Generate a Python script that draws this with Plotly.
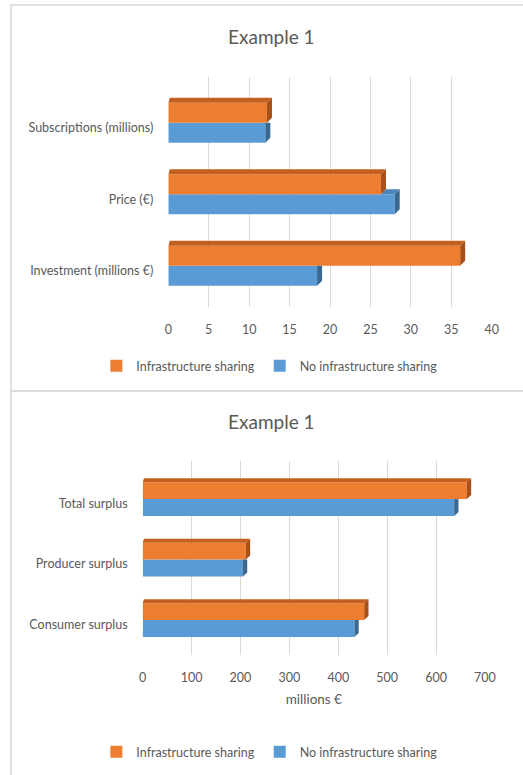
import plotly.graph_objects as go

# ---------------- data ----------------
categories_top = ["Investment (millions €)", "Price (€)", "Subscriptions (millions)"]
sharing_top = [36.1, 26.3, 12.2]
no_sharing_top = [18.4, 28.0, 12.0]
ticks_top = [0, 5, 10, 15, 20, 25, 30, 35, 40]

categories_bottom = ["Consumer surplus", "Producer surplus", "Total surplus"]
sharing_bottom = [453, 211, 663]
no_sharing_bottom = [433, 205, 637]
ticks_bottom = [0, 100, 200, 300, 400, 500, 600, 700]

series_names = ["Infrastructure sharing", "No infrastructure sharing"]
title_text = "Example 1"
axis_title_bottom = "millions €"

# ---------------- style ----------------
ORANGE = "#ED7D31"
ORANGE_TOP = "#C3601F"
ORANGE_SIDE = "#A8501A"
BLUE = "#5B9BD5"
BLUE_TOP = "#4E86BA"
BLUE_SIDE = "#3A6891"
GRID = "#D9D9D9"
TEXT = "#595959"
FONT = "Lato"

BW = 0.28      # bar thickness (category units)
SHIFT = 0.07   # front-face shift of the group relative to label


def poly_trace(polys, color, xa, ya):
    xs, ys = [], []
    for p in polys:
        for (px, py) in p:
            xs.append(px)
            ys.append(py)
        xs.append(p[0][0])
        ys.append(p[0][1])
        xs.append(None)
        ys.append(None)
    return go.Scatter(x=xs, y=ys, mode="lines", fill="toself", fillcolor=color,
                      line=dict(width=0, color=color), hoverinfo="skip",
                      showlegend=False, xaxis=xa, yaxis=ya)


def add_chart(fig, cats, vals_o, vals_b, dx, dy, xa, ya, legend, show_legend):
    pos = list(range(len(cats)))
    fig.add_trace(go.Bar(y=pos, x=vals_b, orientation="h", width=BW,
                         offset=SHIFT - BW, marker=dict(color=BLUE, line=dict(width=0)),
                         name=series_names[1], legendrank=2, legend=legend,
                         showlegend=show_legend, xaxis=xa, yaxis=ya))
    fig.add_trace(go.Bar(y=pos, x=vals_o, orientation="h", width=BW,
                         offset=SHIFT, marker=dict(color=ORANGE, line=dict(width=0)),
                         name=series_names[0], legendrank=1, legend=legend,
                         showlegend=show_legend, xaxis=xa, yaxis=ya))
    blue_top, blue_side, or_top, or_side = [], [], [], []
    for i, vo, vb in zip(pos, vals_o, vals_b):
        b0, b1 = i + SHIFT - BW, i + SHIFT
        o0, o1 = i + SHIFT, i + SHIFT + BW
        if vb > vo:
            blue_top.append([(vo, b1), (vb, b1), (vb + dx, b1 + dy), (vo + dx, b1 + dy)])
            blue_side.append([(vb, b0), (vb, b1), (vb + dx, b1 + dy), (vb + dx, b0 + dy)])
        else:
            blue_side.append([(vb, b0), (vb, b1), (vb + dx, b1), (vb + dx, b0 + dy)])
        or_top.append([(0, o1), (vo, o1), (vo + dx, o1 + dy), (0 + dx * 0.3, o1 + dy)])
        or_side.append([(vo, o0), (vo, o1), (vo + dx, o1 + dy), (vo + dx, o0 + dy)])
    fig.add_trace(poly_trace(blue_top, BLUE_TOP, xa, ya))
    fig.add_trace(poly_trace(blue_side, BLUE_SIDE, xa, ya))
    fig.add_trace(poly_trace(or_top, ORANGE_TOP, xa, ya))
    fig.add_trace(poly_trace(or_side, ORANGE_SIDE, xa, ya))
    return pos


fig = go.Figure()
pos_t = add_chart(fig, categories_top, sharing_top, no_sharing_top, 0.62, 0.07,
                  "x", "y", "legend", True)
pos_b = add_chart(fig, categories_bottom, sharing_bottom, no_sharing_bottom, 8.8, 0.066,
                  "x2", "y2", "legend2", True)

axis_font = dict(family=FONT, size=12.5, color=TEXT)
legend_font = dict(family=FONT, size=12.5, color=TEXT)

common_x = dict(showgrid=True, gridcolor=GRID, gridwidth=1, zeroline=False,
                showline=False, ticks="", tickfont=axis_font, ticklabelstandoff=14,
                fixedrange=True, automargin=False)
common_y = dict(showgrid=False, zeroline=False, showline=False, ticks="",
                tickfont=axis_font, ticklabelstandoff=14, fixedrange=True,
                automargin=False)

fig.update_layout(
    width=523, height=775, autosize=False,
    margin=dict(l=0, r=0, t=0, b=0, autoexpand=False),
    paper_bgcolor="white", plot_bgcolor="white",
    barmode="overlay",
    font=dict(family=FONT, color=TEXT),
    xaxis=dict(domain=[0.3218, 0.9402], range=[0, 40], tickvals=ticks_top,
               anchor="y", **common_x),
    yaxis=dict(domain=[0.6045, 0.9006], range=[-0.5, 2.71], tickvals=pos_t,
               ticktext=categories_top, anchor="x", **common_y),
    xaxis2=dict(domain=[0.2728, 0.9273], range=[0, 700], tickvals=ticks_bottom,
                title=dict(text=axis_title_bottom,
                           font=dict(family=FONT, size=13.5, color=TEXT), standoff=10),
                anchor="y2", **common_x),
    yaxis2=dict(domain=[0.1554, 0.4052], range=[-0.5, 2.70], tickvals=pos_b,
                ticktext=categories_bottom, anchor="x2", **common_y),
    legend=dict(orientation="h", x=0.515, xanchor="center", y=1 - 366 / 775,
                yanchor="middle", font=legend_font,
                itemwidth=30, traceorder="normal", bgcolor="rgba(0,0,0,0)"),
    legend2=dict(orientation="h", x=0.515, xanchor="center", y=1 - 752 / 775,
                 yanchor="middle", font=legend_font,
                 itemwidth=30, traceorder="normal", bgcolor="rgba(0,0,0,0)"),
    annotations=[
        dict(text=title_text, xref="paper", yref="paper", x=0.52, y=1 - 37 / 775,
             xanchor="center", yanchor="middle", showarrow=False,
             font=dict(family=FONT, size=19, color=TEXT)),
        dict(text=title_text, xref="paper", yref="paper", x=0.52, y=1 - 421 / 775,
             xanchor="center", yanchor="middle", showarrow=False,
             font=dict(family=FONT, size=19, color=TEXT)),
    ],
    shapes=[
        dict(type="rect", xref="paper", yref="paper", x0=11 / 523, x1=1.01,
             y0=1 - 391 / 775, y1=1 - 5 / 775, line=dict(color=GRID, width=1.5),
             layer="below"),
        dict(type="rect", xref="paper", yref="paper", x0=11 / 523, x1=1.01,
             y0=-0.01, y1=1 - 391 / 775, line=dict(color=GRID, width=1.5),
             layer="below"),
    ],
)

fig.write_html("out.html",
               config={"responsive": False, "displayModeBar": False},
               post_script="document.body.style.margin='0';document.body.style.overflow='hidden';")
